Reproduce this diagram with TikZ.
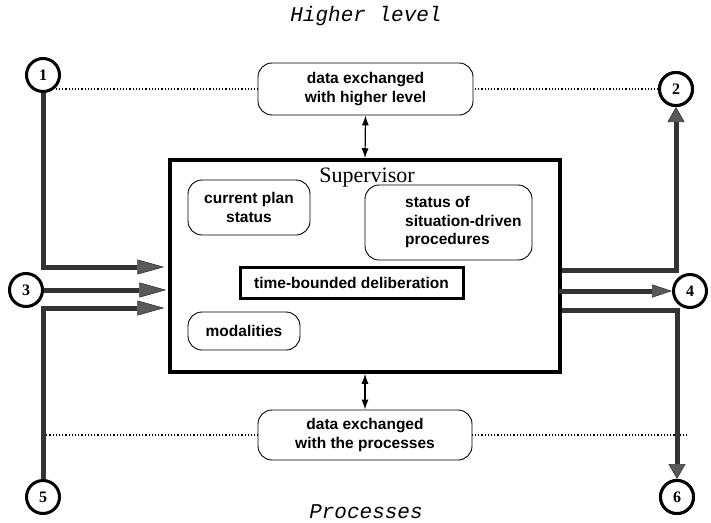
\documentclass[tikz,border=0pt]{standalone}
\usepackage{fontspec}
\setmainfont{Liberation Serif}
\setsansfont{Liberation Sans}
\setmonofont{Liberation Mono}
\usetikzlibrary{arrows.meta,calc}
\tikzset{
  num/.style={circle, draw, line width=3pt, minimum size=33pt, inner sep=0pt, fill=white,
    font=\fontsize{16}{16}\selectfont\bfseries},
  rbox/.style={draw, rounded corners=14pt, line width=0.9pt, fill=white, inner sep=0pt,
    align=center, font=\sffamily\bfseries\fontsize{15.5}{18.5}\selectfont},
  lbl/.style={inner sep=0pt, font=\sffamily\bfseries\fontsize{15.5}{18.5}\selectfont},
  level/.style={inner sep=0pt, font=\ttfamily\itshape\fontsize{21}{21}\selectfont},
  big/.style={line width=5pt, draw=black!80},
  ltip/.style={-{Triangle[length=27pt,width=15pt,line width=0.6pt,fill=black!65]}},
  vtip/.style={-{Triangle[length=15pt,width=17pt,line width=0.6pt,fill=black!65]}},
  htip/.style={-{Triangle[length=20pt,width=13pt,line width=0.6pt,fill=black!65]}},
  dots/.style={line width=1.2pt, dash pattern=on 1.2pt off 2pt},
  xch/.style={line width=1.2pt, {Latex[length=10pt,width=7pt]}-{Latex[length=10pt,width=7pt]}}
}
\begin{document}
\begin{tikzpicture}[x=1pt,y=-1pt]
\useasboundingbox (0,0) rectangle (711,522);

% level labels
\node[level] (hl) at (366,16) {Higher level};
\node[level] (pr) at (366,512) {Processes};

% numbered circles
\node[num] (c1) at (43,75) {1};
\node[num] (c2) at (676,89) {2};
\node[num] (c3) at (26,290) {3};
\node[num] (c4) at (690,291) {4};
\node[num] (c5) at (43,497) {5};
\node[num] (c6) at (677,497) {6};

% supervisor
\node[draw, line width=3.5pt, minimum width=390pt, minimum height=212pt, inner sep=0pt]
  (sup) at (365,266) {};
\node[inner sep=0pt, font=\fontsize{22}{22}\selectfont] (supl) at (367,178) {Supervisor};

% dotted lines
\coordinate (dl) at (43,435);
\coordinate (dr) at (688,435);
\draw[dots] (c1.south east |- c2.west) -- (c2.west);
\draw[dots] (dl) -- (dr);

% gray arrows, left
\draw[big,ltip] (c1.south) |- ($(sup.west|-c3)+(-4,-23)$);
\draw[big,ltip] (c3.east) -- ($(sup.west|-c3)+(-2,0)$);
\draw[big,ltip] (c5.north) |- ($(sup.west|-c3)+(-4,18)$);

% gray arrows, right
\draw[big,vtip] ($(sup.east|-c4)+(0,-21)$) -| (c2.south);
\draw[big,htip] ($(sup.east|-c4)+(-3,0)$) -- (c4.west);
\draw[big,vtip] ($(sup.east|-c4)+(0,19)$) -| (c6.north);
\node[num] at (c2) {2};
\node[num] at (c6) {6};

% data exchange boxes
\node[rbox, minimum width=215pt, minimum height=52pt] (dh) at (365.5,89)
  {data exchanged\\with higher level};
\node[rbox, minimum width=214pt, minimum height=50pt] (dp) at (365,435)
  {data exchanged\\with the processes};
\draw[xch] (dh.south) -- (sup.north);
\draw[xch] (sup.south) -- (dp.north);

% inner boxes
\node[rbox, minimum width=122pt, minimum height=55pt] (cps) at (249,207.5)
  {current plan\\status};
\node[rbox, minimum width=167pt, minimum height=75pt] (sdp) at (448.5,222.5) {};
\node[lbl, align=left, anchor=west] (sdpt) at (405,222) {status of\\situation-driven\\procedures};
\node[draw, line width=3pt, minimum width=223pt, minimum height=31pt, inner sep=0pt,
  font=\sffamily\bfseries\fontsize{15.5}{18.5}\selectfont] (tbd) at (351.5,282.5)
  {time-bounded deliberation};
\node[rbox, minimum width=112pt, minimum height=38pt] (mod) at (244,331) {modalities};
\end{tikzpicture}
\end{document}
